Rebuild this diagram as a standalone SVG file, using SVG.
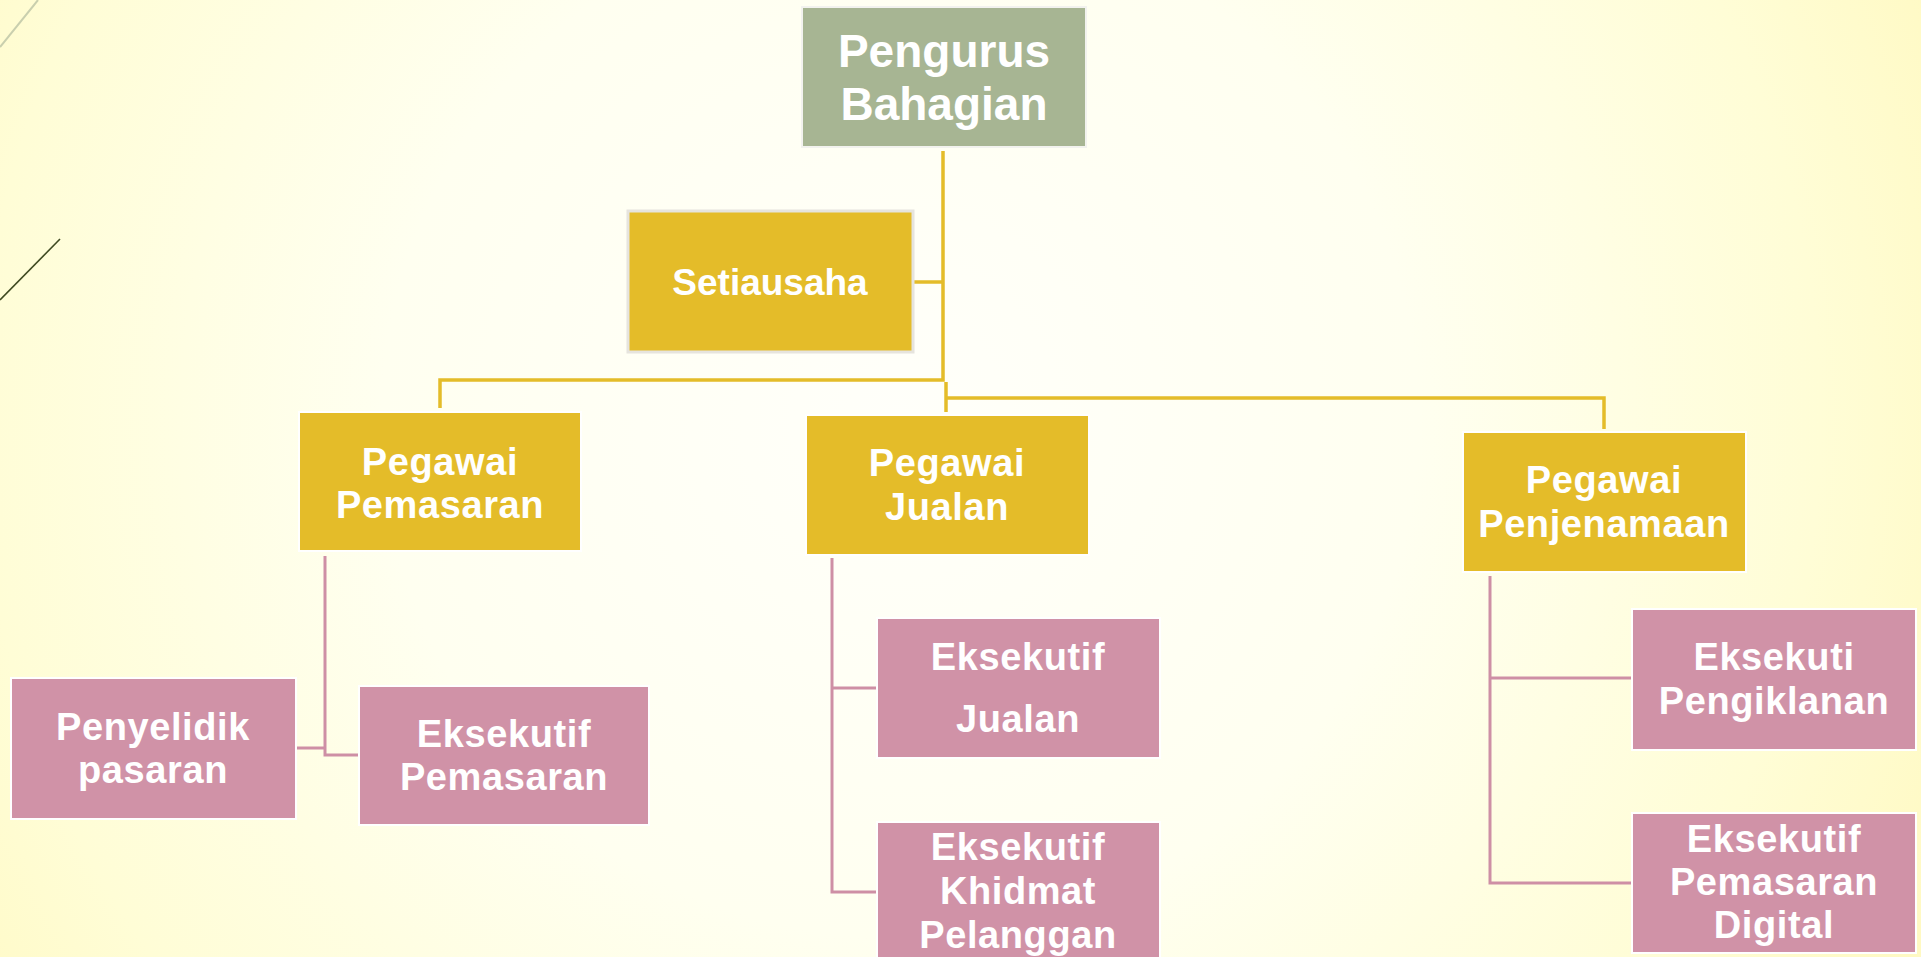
<svg xmlns="http://www.w3.org/2000/svg" width="1921" height="957" viewBox="0 0 1921 957">
<defs>
<radialGradient id="bg" cx="900" cy="420" r="1150" gradientUnits="userSpaceOnUse">
<stop offset="0" stop-color="#FFFFFA"/>
<stop offset="0.45" stop-color="#FFFFF0"/>
<stop offset="0.8" stop-color="#FFFDD6"/>
<stop offset="1" stop-color="#FFF9C2"/>
</radialGradient>
<style>
.t{font-family:"Liberation Sans",Arial,sans-serif;font-weight:bold;fill:#FFFFFF;text-anchor:middle}
.f40{font-size:38px;letter-spacing:0.6px}
.sage{fill:#A7B593;stroke:#F2F2EE;stroke-width:2}
.gold{fill:#E4BC29;stroke:#FFFFFF;stroke-width:2}
.gold2{fill:#E4BC29;stroke:#E6E4DE;stroke-width:3}
.pink{fill:#D092A7;stroke:#FFFFFF;stroke-width:2}
.cg{fill:none;stroke:#E4BC29;stroke-width:3.5}
.cp{fill:none;stroke:#CE8FA5;stroke-width:3}
</style>
</defs>
<rect width="1921" height="957" fill="url(#bg)"/>
<line x1="0" y1="47" x2="38" y2="0" stroke="#C9CFAE" stroke-width="2"/>
<line x1="0" y1="300" x2="60" y2="239" stroke="#3F4A22" stroke-width="1.6"/>
<g id="connectors">
<path class="cg" d="M943,151 V380 H440 V408"/>
<path class="cg" d="M913,282 H943"/>
<path class="cg" d="M946,382 V412"/>
<path class="cg" d="M946,398 H1604 V429"/>
<path class="cp" d="M325,556 V755 H359"/>
<path class="cp" d="M296,748 H325"/>
<path class="cp" d="M832,558 V892 H877"/>
<path class="cp" d="M832,688 H877"/>
<path class="cp" d="M1490,576 V883 H1632"/>
<path class="cp" d="M1490,678 H1632"/>
</g>
<g id="pengurus">
<rect class="sage" x="802" y="7" width="284" height="140"/>
<text class="t" x="944" y="67" font-size="46">Pengurus</text>
<text class="t" x="944" y="120" font-size="46">Bahagian</text>
</g>
<g id="setiausaha">
<rect class="gold2" x="628" y="211" width="285" height="141"/>
<text class="t" x="770" y="295" font-size="37">Setiausaha</text>
</g>
<g id="pegawai-pemasaran">
<rect class="gold" x="299" y="412" width="282" height="139"/>
<text class="t f40" x="440" y="475">Pegawai</text>
<text class="t f40" x="440" y="518">Pemasaran</text>
</g>
<g id="pegawai-jualan">
<rect class="gold" x="806" y="415" width="283" height="140"/>
<text class="t f40" x="947" y="476">Pegawai</text>
<text class="t f40" x="947" y="520">Jualan</text>
</g>
<g id="pegawai-penjenamaan">
<rect class="gold" x="1463" y="432" width="283" height="140"/>
<text class="t f40" x="1604" y="493">Pegawai</text>
<text class="t f40" x="1604" y="537">Penjenamaan</text>
</g>
<g id="penyelidik">
<rect class="pink" x="11" y="678" width="285" height="141"/>
<text class="t f40" x="153" y="740">Penyelidik</text>
<text class="t f40" x="153" y="783">pasaran</text>
</g>
<g id="eksekutif-pemasaran">
<rect class="pink" x="359" y="686" width="290" height="139"/>
<text class="t f40" x="504" y="747">Eksekutif</text>
<text class="t f40" x="504" y="790">Pemasaran</text>
</g>
<g id="eksekutif-jualan">
<rect class="pink" x="877" y="618" width="283" height="140"/>
<text class="t f40" x="1018" y="670">Eksekutif</text>
<text class="t f40" x="1018" y="732">Jualan</text>
</g>
<g id="eksekutif-khidmat">
<rect class="pink" x="877" y="822" width="283" height="150"/>
<text class="t f40" x="1018" y="860">Eksekutif</text>
<text class="t f40" x="1018" y="904">Khidmat</text>
<text class="t f40" x="1018" y="948">Pelanggan</text>
</g>
<g id="eksekuti-pengiklanan">
<rect class="pink" x="1632" y="609" width="284" height="141"/>
<text class="t f40" x="1774" y="670">Eksekuti</text>
<text class="t f40" x="1774" y="714">Pengiklanan</text>
</g>
<g id="eksekutif-digital">
<rect class="pink" x="1632" y="813" width="284" height="140"/>
<text class="t f40" x="1774" y="852">Eksekutif</text>
<text class="t f40" x="1774" y="895">Pemasaran</text>
<text class="t f40" x="1774" y="938">Digital</text>
</g>
</svg>
